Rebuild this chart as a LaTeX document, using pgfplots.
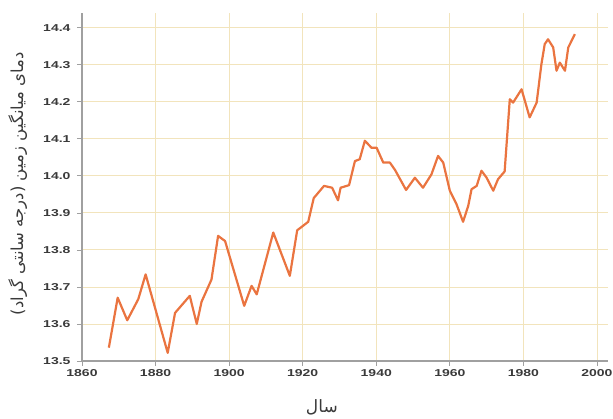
\documentclass[border=0pt]{standalone}
\usepackage{pgfplots}
\pgfplotsset{compat=1.18}
\usepackage{fontspec}
\setmainfont{Liberation Sans}
\newfontfamily\tickfont[FakeStretch=1.4]{Liberation Sans Bold}
\newfontfamily\arabicfont[Script=Arabic]{DejaVu Sans}
\TeXXeTstate=1
\definecolor{gridc}{HTML}{F2E4BC}
\definecolor{axisc}{HTML}{A0A0A0}
\definecolor{linec}{HTML}{EA7440}
\definecolor{tickc}{HTML}{3A3A3A}
\begin{document}
\begin{tikzpicture}
\useasboundingbox (-82pt,-57pt) rectangle (531pt,361pt);
\begin{axis}[
    scale only axis,
    width=526pt, height=348pt,
    xmin=1860, xmax=2003,
    ymin=13.5, ymax=14.44,
    axis x line*=bottom, axis y line*=left,
    axis line style={axisc, line width=1.6pt},
    xtick={1860,1880,...,2000},
    ytick={13.5,13.6,...,14.41},
    tick label style={font=\tickfont\fontsize{10}{10}\selectfont, text=tickc},
    yticklabel style={xshift=-3pt, /pgf/number format/.cd, fixed, fixed zerofill, precision=1},
    xticklabel style={/pgf/number format/.cd, 1000 sep={}},
    /pgf/number format/assume math mode=true,
    tick style={axisc, line width=0.8pt},
    tick align=outside,
    major tick length=5pt,
    grid=major,
    major grid style={gridc, line width=0.9pt},
    xlabel={\arabicfont\beginR سال\endR},
    ylabel={\arabicfont\beginR دمای میانگین زمین (درجه سانتی گراد)\endR},
    xlabel style={at={(rel axis cs:0.456,0)}, anchor=center, yshift=-46pt, font=\fontsize{17}{17}\selectfont, text=tickc},
    ylabel style={at={(axis description cs:-0.122,0.51)}, anchor=center, font=\fontsize{16.5}{16.5}\selectfont, text=tickc},
]
\addplot[linec, line width=2.2pt, line join=round] coordinates {
(1867.3,13.536) (1869.7,13.671) (1872.3,13.610) (1875.3,13.667)
(1877.3,13.734) (1883.3,13.522) (1885.3,13.630) (1889.3,13.676)
(1891.2,13.600) (1892.5,13.660) (1895.2,13.720) (1897.0,13.838)
(1898.9,13.824) (1904.1,13.649) (1906.1,13.703) (1907.5,13.680)
(1912.0,13.847) (1916.5,13.730) (1918.5,13.853) (1921.5,13.876)
(1923.0,13.940) (1925.8,13.973) (1928.0,13.968) (1929.6,13.934)
(1930.3,13.968) (1932.6,13.975) (1934.2,14.040) (1935.5,14.045)
(1936.9,14.095) (1938.7,14.076) (1940.1,14.076) (1941.9,14.036)
(1943.7,14.036) (1945.1,14.016) (1948.1,13.962) (1950.5,13.995)
(1952.7,13.968) (1955.0,14.004) (1956.8,14.054) (1958.2,14.036)
(1960.0,13.960) (1961.8,13.924) (1963.6,13.876) (1965.0,13.919)
(1965.9,13.964) (1967.3,13.973) (1968.6,14.014) (1970.0,13.995)
(1971.8,13.960) (1973.1,13.991) (1974.9,14.012) (1976.3,14.207)
(1977.2,14.198) (1979.5,14.234) (1981.7,14.158) (1983.6,14.198)
(1984.9,14.302) (1985.8,14.356) (1986.7,14.369) (1988.1,14.347)
(1989.0,14.284) (1989.9,14.306) (1991.3,14.284) (1992.2,14.347)
(1994.0,14.383)
};
\end{axis}
\end{tikzpicture}
\end{document}
